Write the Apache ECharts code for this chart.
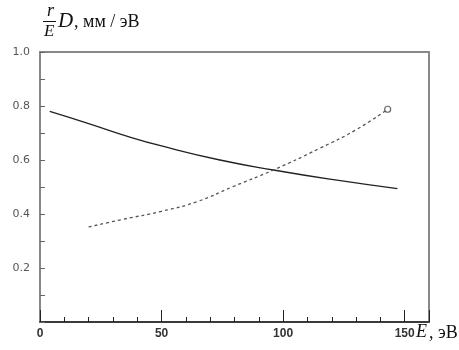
<!doctype html>
<html>
<head>
    <meta charset="utf-8">
    <title>r/E D</title>
    <script src="https://cdn.jsdelivr.net/npm/echarts@6/dist/echarts.min.js"></script>
</head>
<body style="margin:0;padding:0;background:#fff;">
    <div id="tb" style="width:459px;height:350px;"></div>
    <script>
        // данные
        var solidE = [4, 20, 37, 50, 74, 96, 120, 147];
        var solidY = [0.78, 0.735, 0.685, 0.652, 0.60, 0.563, 0.528, 0.494];
        var dashE = [20, 34, 50, 65, 79, 96, 115, 130, 143];
        var dashY = [0.352, 0.38, 0.41, 0.447, 0.5, 0.563, 0.643, 0.712, 0.788];
        var xLabels = [0, 50, 100, 150];
        var yLabels = [0.2, 0.4, 0.6, 0.8, 1.0];

        var pairs = function (xs, ys) {
            return xs.map(function (x, i) { return [x, ys[i]]; });
        };
        var serif = '"Liberation Serif", "DejaVu Serif", serif';

        var chart = echarts.init(document.getElementById('tb'), null, { renderer: 'canvas' });
        chart.setOption({
            animation: false,
            grid: {
                left: 40, right: 30, top: 52, bottom: 28,
                show: true, borderColor: '#888', borderWidth: 2, backgroundColor: 'transparent'
            },
            xAxis: [{
                type: 'value', min: 0, max: 160, interval: 10,
                axisLine: { show: true, lineStyle: { color: '#222', width: 1.5 } },
                axisTick: { show: true, inside: true, length: 5, lineStyle: { color: '#222', width: 1 } },
                axisLabel: {
                    margin: 6, fontSize: 12, fontWeight: 'bold', color: '#333',
                    fontFamily: '"Liberation Sans", Arial, sans-serif',
                    formatter: function (v) { return xLabels.indexOf(v) >= 0 ? String(v) : ''; }
                },
                splitLine: { show: false }
            }, {
                type: 'value', min: 0, max: 160, interval: 50, position: 'bottom',
                axisLine: { show: false },
                axisTick: { show: true, inside: true, length: 12, lineStyle: { color: '#222', width: 1 } },
                axisLabel: { show: false },
                splitLine: { show: false }
            }],
            yAxis: {
                type: 'value', min: 0, max: 1, interval: 0.1,
                axisLine: { show: true, lineStyle: { color: '#888', width: 2 } },
                axisTick: { show: true, inside: true, length: 5, lineStyle: { color: '#666', width: 1 } },
                axisLabel: {
                    margin: 10, fontSize: 11, color: '#555',
                    fontFamily: '"DejaVu Sans", sans-serif',
                    formatter: function (v) {
                        var r = Math.round(v * 10) / 10;
                        return yLabels.indexOf(r) >= 0 ? r.toFixed(1) : '';
                    }
                },
                splitLine: { show: false }
            },
            series: [{
                type: 'line', smooth: 0.5, symbol: 'none',
                data: pairs(solidE, solidY),
                lineStyle: { color: '#222', width: 1.3 }
            }, {
                type: 'line', smooth: 0.5, symbol: 'none',
                data: pairs(dashE, dashY),
                lineStyle: { color: '#555', width: 1.3, type: [3, 3] }
            }, {
                type: 'scatter', symbol: 'circle', symbolSize: 6,
                data: [[dashE[dashE.length - 1], dashY[dashY.length - 1]]],
                itemStyle: { color: '#fff', borderColor: '#444', borderWidth: 1.2 }
            }],
            graphic: [
                { type: 'text', left: 47, top: 2, style: { text: 'r', font: 'italic 18px ' + serif, fill: '#111' } },
                { type: 'line', shape: { x1: 43, y1: 21.5, x2: 56, y2: 21.5 }, style: { stroke: '#111', lineWidth: 1 } },
                { type: 'text', left: 44, top: 23, style: { text: 'E', font: 'italic 17px ' + serif, fill: '#111' } },
                { type: 'text', left: 58, top: 11, style: { text: 'D', font: 'italic 21px ' + serif, fill: '#111' } },
                { type: 'text', left: 74, top: 13, style: { text: ', мм / эВ', font: '18px ' + serif, fill: '#111' } },
                { type: 'text', left: 416, top: 323, style: { text: 'E', font: 'italic 18px ' + serif, fill: '#111' } },
                { type: 'text', left: 429, top: 324, style: { text: ', эВ', font: '18px ' + serif, fill: '#111' } }
            ]
        });
    </script>
</body>
</html>
